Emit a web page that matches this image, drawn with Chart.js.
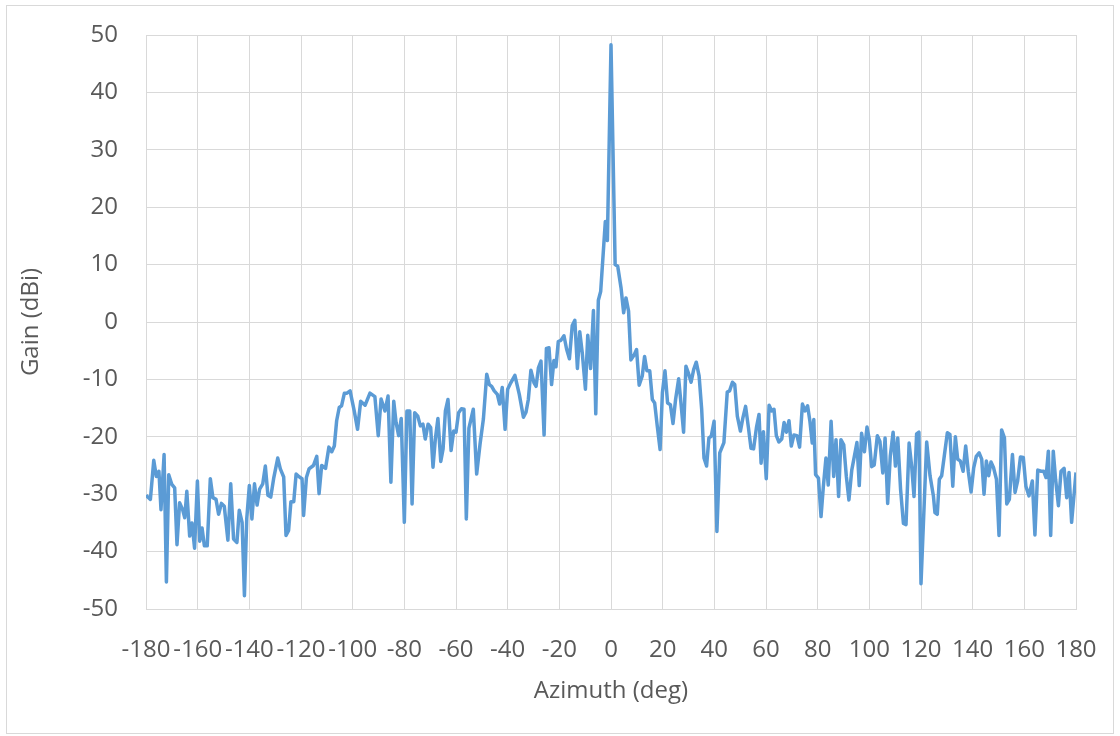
<!DOCTYPE html>
<html>
<head>
<meta charset="utf-8">
<title>Gain vs Azimuth</title>
<script src="https://cdn.jsdelivr.net/npm/chart.js@4.4.1/dist/chart.umd.min.js"></script>
<style>
    body { margin: 0; background: #ffffff; }
    #wrap { position: relative; width: 1120px; height: 736px; }
</style>
</head>
<body>
<div id="wrap">
    <canvas id="gainChart" width="1120" height="736"></canvas>
</div>
<script>
const azimuthDeg = [
    -180, -178.3, -177, -176, -175, -174.2, -173, -172.1, -171.2, -170,
    -168.9, -168, -167, -165.8, -165, -164.2, -163.1, -162.2, -161.2, -160.1,
    -159.2, -158.3, -157.4, -156.3, -155.1, -154.1, -152.9, -151.9, -150.8, -149.7,
    -148.3, -147.2, -146.1, -144.8, -143.9, -142.8, -141.9, -141, -140, -139,
    -138, -137, -136, -134.8, -133.8, -132.8, -131.7, -130.6, -129, -128,
    -126.7, -125.8, -124.8, -123.9, -122.8, -121.9, -120.6, -119.6, -119, -117.9,
    -116.9, -115.2, -113.9, -113, -112, -110.5, -109.2, -108.1, -107.1, -106.2,
    -105.2, -104.3, -103.2, -102.2, -101, -99.4, -98.1, -96.9, -95.2, -93.3,
    -91.4, -90.1, -89, -87.5, -86.3, -85.2, -84.1, -83.2, -82.2, -81.2,
    -80, -79, -77.9, -77, -76, -74.8, -73.8, -72.8, -71.9, -70.8,
    -69.8, -68.9, -68, -67, -65.9, -65, -64.1, -63.1, -61.9, -60.9,
    -60, -59, -57.9, -56.9, -56, -55, -53.3, -52, -50.7, -49.4,
    -48.1, -47.1, -46.2, -45.2, -44, -43.1, -42.1, -41, -40, -38.8,
    -37.2, -35.5, -33.9, -32.9, -32, -31, -29.8, -29, -28.1, -27.1,
    -25.9, -25, -24, -23, -22.1, -21.3, -20.4, -19.4, -18.2, -17.2,
    -16.1, -15, -14, -13, -12.1, -11.1, -9.9, -9, -7.9, -6.8,
    -5.9, -4.9, -4, -2.2, -1.4, 0, 1.6, 2.6, 3.9, 4.9,
    5.8, 6.8, 7.7, 9, 9.9, 10.9, 12.1, 13, 13.9, 15,
    16, 16.9, 17.9, 19, 19.9, 20.9, 21.9, 23, 24, 25,
    26.2, 27.2, 28.1, 29, 29.9, 31, 32, 33, 34.1, 35.1,
    36, 37, 37.9, 38.8, 39.9, 41, 42.1, 43.7, 45, 45.9,
    47, 47.9, 48.9, 50.1, 51.1, 52.1, 53.2, 54.2, 55.2, 56.3,
    57.3, 58.1, 59, 60.1, 61.2, 62.2, 63.1, 64, 65, 66.1,
    67, 67.9, 68.9, 69.8, 70.8, 72, 73, 74.1, 75.1, 76.1,
    77, 77.9, 78.5, 79.2, 80.3, 81.3, 82.2, 83.2, 84.1, 85.2,
    86.2, 87.1, 88.1, 89, 90.1, 91.1, 92.1, 93.2, 94.2, 95.2,
    96.1, 97, 98.1, 99.1, 100, 100.9, 101.9, 103.1, 104.1, 105.2,
    106.1, 107.1, 108.1, 109.2, 110.1, 111, 112.1, 113.2, 114.2, 115.4,
    116.4, 117.3, 118.3, 119.2, 120, 122.2, 123.5, 124.8, 125.4, 126.3,
    127.1, 128, 129, 130.2, 131.2, 132.3, 133.3, 134.2, 135.2, 136.3,
    137.3, 138.3, 139.4, 140.4, 141.4, 142.5, 143.5, 144.4, 145.3, 146.2,
    147.1, 148.1, 149.2, 150.2, 151.2, 152.3, 153.2, 154.2, 155.4, 156.4,
    157.4, 158.5, 159.6, 160.6, 161.8, 163.1, 164.1, 165.2, 166.5, 167.5,
    168.4, 169.3, 170.2, 171.2, 172.1, 173.2, 174.2, 175.4, 176.4, 177.3,
    178.3, 180
];

const gainDbi = [
    -30.2, -30.9, -24.1, -26.9, -26, -32.7, -23.1, -45.3, -26.6, -28.3,
    -28.9, -38.8, -31.5, -32.7, -34.1, -29.5, -37.3, -35, -39.4, -27.7,
    -38.2, -35.9, -39, -39, -27.3, -30.6, -30.9, -33.5, -31.6, -32.1,
    -38, -28.2, -37.8, -38.4, -32.8, -34.9, -47.7, -34.3, -28.5, -34.3,
    -28.2, -31.9, -29.1, -28.2, -25.1, -30.2, -30.5, -27.3, -23.7, -25.6,
    -27, -37.2, -36.3, -31.3, -31.3, -26.5, -27, -27.3, -33.7, -27.1,
    -25.6, -25, -23.4, -29.9, -25, -25.5, -21.8, -22.6, -21.6, -17.2,
    -14.9, -14.6, -12.4, -12.4, -12, -15.5, -18.7, -13.8, -14.5, -12.4,
    -13, -19.8, -13.4, -15.5, -12.9, -27.9, -13.8, -17.5, -19.8, -16.8,
    -34.9, -15.5, -15.5, -31.7, -15.8, -16.4, -18.1, -17.8, -20.4, -17.8,
    -18.4, -25.3, -20.4, -16.8, -24.3, -22.1, -15.5, -13.5, -22.4, -19,
    -19.2, -15.8, -15.1, -15.2, -34.3, -18.5, -15.2, -26.5, -21.3, -16.9,
    -9.1, -10.9, -11.2, -12, -12.6, -14.3, -11.4, -18.7, -11.7, -10.6,
    -9.3, -12.6, -16.6, -15.7, -13.5, -8.4, -10.6, -11.2, -8, -6.8,
    -19.7, -4.6, -4.5, -10.9, -6.7, -7.8, -3.4, -3.2, -2.4, -4.7,
    -6.4, -0.6, 0.3, -8.1, -1.7, -5.5, -11.7, -2.3, -8.1, 2,
    -16, 3.8, 5.3, 17.5, 14.2, 48.3, 10, 9.7, 5.9, 1.6,
    4.2, 1.9, -6.6, -5.7, -4.8, -11, -9.4, -6, -8.5, -8.5,
    -13.5, -14.1, -18.1, -22.2, -12.3, -8.5, -14.1, -14.4, -17.7, -13.5,
    -9.9, -14.7, -19.2, -7.7, -8.8, -10.5, -8.3, -7, -9.4, -15.2,
    -23.7, -25.1, -20.2, -19.9, -17.3, -36.5, -22.8, -21, -12.2, -12,
    -10.5, -10.9, -16.4, -19, -16.6, -14.7, -18.4, -22, -22.1, -18.4,
    -16.1, -24.6, -19.1, -27.3, -14.5, -15.5, -15.2, -19.8, -20.9, -20.4,
    -17.5, -19.2, -17.2, -21.6, -19.7, -19.8, -21.8, -14.3, -15.5, -14.6,
    -17.3, -21.1, -17, -26.6, -27.2, -33.9, -28.7, -23.7, -28.4, -17.3,
    -26.9, -20.5, -30.4, -20.5, -21.4, -26.9, -31, -25.8, -23.4, -21,
    -28.5, -19.4, -22.6, -18.3, -20.5, -25.2, -24.9, -19.8, -20.8, -26.3,
    -20.2, -31.6, -23.4, -19.2, -25.1, -20.2, -29.2, -35.1, -35.3, -21.1,
    -25.2, -30.4, -19.5, -19.2, -45.6, -20.9, -26.8, -30.3, -33.2, -33.5,
    -27.4, -26.8, -23.4, -19.3, -19.6, -28.6, -20, -23.9, -24.2, -26,
    -21.6, -26, -29.6, -25.4, -23.4, -22.8, -23.9, -30, -24.2, -26.8,
    -24.4, -25.4, -27.4, -37.2, -18.8, -20.2, -31.7, -30.9, -23.1, -29.7,
    -27.7, -23.5, -23.6, -28.6, -30.3, -27.7, -37.1, -25.8, -26, -26,
    -27.1, -22.5, -37.2, -22.5, -27.4, -32, -26, -25.5, -30.6, -26.2,
    -34.9, -26.2
];

const xTitle = 'Azimuth (deg)';
const yTitle = 'Gain (dBi)';

const textColor = '#595959';
const gridColor = '#d9d9d9';
const tickFont = {family: 'Open Sans', size: 24};

const points = azimuthDeg.map((a, i) => ({x: a, y: gainDbi[i]}));

// thin grey frame round the whole chart, as in the spreadsheet export
const frame = {
    id: 'frame',
    beforeDraw(chart) {
        const ctx = chart.ctx;
        ctx.save();
        ctx.fillStyle = '#ffffff';
        ctx.fillRect(0, 0, chart.width, chart.height);
        ctx.strokeStyle = gridColor;
        ctx.lineWidth = 1;
        ctx.strokeRect(6.5, 5.5, 1107, 728);
        ctx.restore();
    }
};

const ctx = document.getElementById('gainChart').getContext('2d');
new Chart(ctx, {
    type: 'line',
    data: {
        datasets: [{
            data: points,
            borderColor: '#5b9bd5',
            borderWidth: 3.5,
            borderJoinStyle: 'round',
            pointRadius: 0,
            tension: 0,
            fill: false
        }]
    },
    options: {
        responsive: false,
        animation: false,
        layout: {padding: {top: 35, right: 44, left: 0, bottom: 0}},
        plugins: {
            legend: {display: false},
            tooltip: {enabled: false}
        },
        scales: {
            x: {
                type: 'linear',
                min: -180,
                max: 180,
                grid: {color: gridColor, drawTicks: false},
                border: {color: gridColor},
                ticks: {stepSize: 20, autoSkip: false, maxRotation: 0, color: textColor, font: tickFont, padding: 27},
                title: {display: true, text: xTitle, color: textColor, font: tickFont, padding: {top: 0, bottom: 30}},
                afterFit: function (scale) {
                    scale.height = 127;
                    scale.paddingLeft = 0;
                    scale.paddingRight = 0;
                }
            },
            y: {
                min: -50,
                max: 50,
                grid: {color: gridColor, drawTicks: false},
                border: {color: gridColor},
                ticks: {stepSize: 10, color: textColor, font: tickFont, padding: 28},
                title: {display: true, text: yTitle, color: textColor, font: tickFont, padding: {top: 17, bottom: 0}},
                afterFit: function (scale) {
                    scale.width = 146;
                    scale.paddingTop = 0;
                    scale.paddingBottom = 0;
                }
            }
        }
    },
    plugins: [frame]
});
</script>
</body>
</html>
